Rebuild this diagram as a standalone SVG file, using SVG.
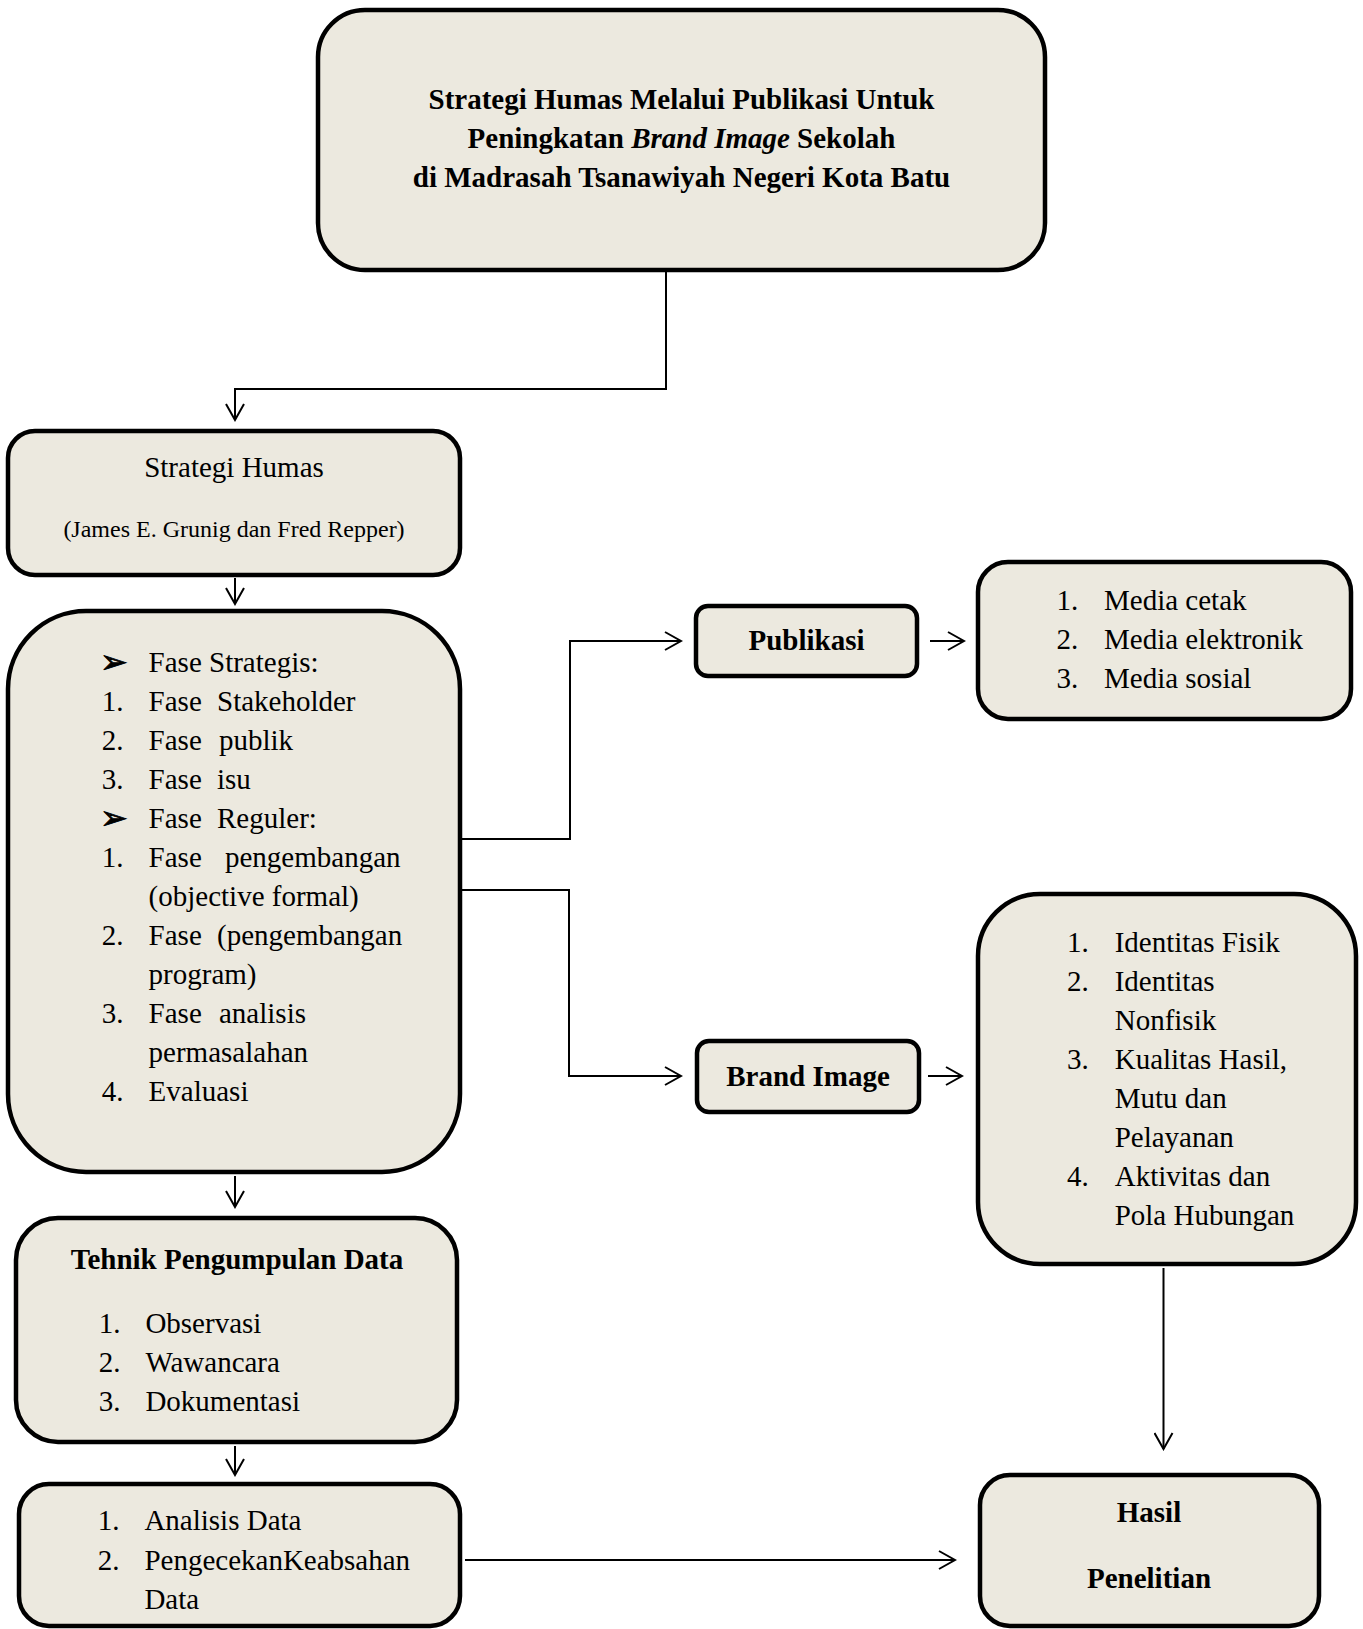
<svg xmlns="http://www.w3.org/2000/svg" width="1363" height="1629" viewBox="0 0 1363 1629">
<style>
.box{fill:#ECE9DF;stroke:#000;stroke-width:4.5}
.t{font-family:"Liberation Serif","Times New Roman",serif;font-size:29px;fill:#000}
.b{font-weight:bold}
.s{font-size:24px}
.c{text-anchor:middle}
.bul{font-family:"DejaVu Sans",sans-serif;font-size:33px;stroke:#000;stroke-width:0.8}
.ln{fill:none;stroke:#000;stroke-width:2}
</style>
<defs>
<marker id="ah" viewBox="0 0 20 20" refX="18" refY="10" markerWidth="20" markerHeight="20" markerUnits="userSpaceOnUse" orient="auto">
<path d="M2,1 L18,10 L2,19" fill="none" stroke="#000" stroke-width="2"/>
</marker>
</defs>
<g id="connectors">
<path class="ln" d="M666,270 V389 H235 V420" stroke-width="1.6" marker-end="url(#ah)"/>
<path class="ln" d="M235,578 V604" marker-end="url(#ah)"/>
<path class="ln" d="M460,839 H570 V641 H681" marker-end="url(#ah)"/>
<path class="ln" d="M460,890 H569 V1076 H681" marker-end="url(#ah)"/>
<path class="ln" d="M930,641 H964" marker-end="url(#ah)"/>
<path class="ln" d="M928,1076 H962" marker-end="url(#ah)"/>
<path class="ln" d="M235,1176 V1207" marker-end="url(#ah)"/>
<path class="ln" d="M235,1446 V1475" marker-end="url(#ah)"/>
<path class="ln" d="M1163.5,1268 V1449" marker-end="url(#ah)"/>
<path class="ln" d="M465,1560 H955" stroke-width="2.5" marker-end="url(#ah)"/>
</g>
<g id="title">
<rect class="box" x="318" y="10" width="727" height="260" rx="47"/>
<text class="t b c" x="681.5" y="109">Strategi Humas Melalui Publikasi Untuk</text>
<text class="t b c" x="681.5" y="147.5">Peningkatan <tspan font-style="italic">Brand Image</tspan> Sekolah</text>
<text class="t b c" x="681.5" y="187">di Madrasah Tsanawiyah Negeri Kota Batu</text>
</g>
<g id="strategi-humas">
<rect class="box" x="8" y="431" width="452" height="144" rx="27"/>
<text class="t c" x="234" y="477">Strategi Humas</text>
<text class="t s c" x="234" y="537">(James E. Grunig dan Fred Repper)</text>
</g>
<g id="fase">
<rect class="box" x="8" y="611" width="452" height="561" rx="78"/>
<text class="bul" x="100" y="673">➢</text><text class="t" x="148.6" y="672">Fase Strategis:</text>
<text class="t" x="101.8" y="711">1.</text><text class="t" x="148.6" y="711">Fase</text><text class="t" x="217" y="711">Stakeholder</text>
<text class="t" x="101.8" y="750">2.</text><text class="t" x="148.6" y="750">Fase</text><text class="t" x="219" y="750">publik</text>
<text class="t" x="101.8" y="789">3.</text><text class="t" x="148.6" y="789">Fase</text><text class="t" x="217" y="789">isu</text>
<text class="bul" x="100" y="829">➢</text><text class="t" x="148.6" y="828">Fase</text><text class="t" x="217" y="828">Reguler:</text>
<text class="t" x="101.8" y="867">1.</text><text class="t" x="148.6" y="867">Fase</text><text class="t" x="225" y="867">pengembangan</text>
<text class="t" x="148.6" y="906">(objective formal)</text>
<text class="t" x="101.8" y="945">2.</text><text class="t" x="148.6" y="945">Fase</text><text class="t" x="217" y="945">(pengembangan</text>
<text class="t" x="148.6" y="984">program)</text>
<text class="t" x="101.8" y="1023">3.</text><text class="t" x="148.6" y="1023">Fase</text><text class="t" x="219" y="1023">analisis</text>
<text class="t" x="148.6" y="1062">permasalahan</text>
<text class="t" x="101.8" y="1101">4.</text><text class="t" x="148.6" y="1101">Evaluasi</text>
</g>
<g id="publikasi">
<rect class="box" x="696" y="606" width="221" height="70" rx="12"/>
<text class="t b c" x="806.5" y="650">Publikasi</text>
</g>
<g id="media">
<rect class="box" x="978" y="562" width="373" height="157" rx="30"/>
<text class="t" x="1056.6" y="610">1.</text><text class="t" x="1104" y="610">Media cetak</text>
<text class="t" x="1056.6" y="649">2.</text><text class="t" x="1104" y="649">Media elektronik</text>
<text class="t" x="1056.6" y="688">3.</text><text class="t" x="1104" y="688">Media sosial</text>
</g>
<g id="brand-image">
<rect class="box" x="697" y="1041" width="222" height="71" rx="12"/>
<text class="t b c" x="808" y="1086">Brand Image</text>
</g>
<g id="brand-list">
<rect class="box" x="978" y="894" width="378" height="370" rx="62"/>
<text class="t" x="1067" y="952">1.</text><text class="t" x="1114.7" y="952">Identitas Fisik</text>
<text class="t" x="1067" y="991">2.</text><text class="t" x="1114.7" y="991">Identitas</text>
<text class="t" x="1114.7" y="1030">Nonfisik</text>
<text class="t" x="1067" y="1069">3.</text><text class="t" x="1114.7" y="1069">Kualitas Hasil,</text>
<text class="t" x="1114.7" y="1108">Mutu dan</text>
<text class="t" x="1114.7" y="1147">Pelayanan</text>
<text class="t" x="1067" y="1186">4.</text><text class="t" x="1114.7" y="1186">Aktivitas dan</text>
<text class="t" x="1114.7" y="1225">Pola Hubungan</text>
</g>
<g id="tehnik">
<rect class="box" x="16" y="1218" width="441" height="224" rx="42"/>
<text class="t b c" x="237" y="1268.5">Tehnik Pengumpulan Data</text>
<text class="t" x="98.7" y="1333">1.</text><text class="t" x="145.4" y="1333">Observasi</text>
<text class="t" x="98.7" y="1372">2.</text><text class="t" x="145.4" y="1372">Wawancara</text>
<text class="t" x="98.7" y="1411">3.</text><text class="t" x="145.4" y="1411">Dokumentasi</text>
</g>
<g id="analisis">
<rect class="box" x="19" y="1484" width="441" height="142" rx="30"/>
<text class="t" x="97.7" y="1530">1.</text><text class="t" x="144.4" y="1530">Analisis Data</text>
<text class="t" x="97.7" y="1570">2.</text><text class="t" x="144.4" y="1570">PengecekanKeabsahan</text>
<text class="t" x="144.4" y="1609">Data</text>
</g>
<g id="hasil">
<rect class="box" x="980" y="1475" width="339" height="151" rx="30"/>
<text class="t b c" x="1149" y="1522">Hasil</text>
<text class="t b c" x="1149" y="1587.5">Penelitian</text>
</g>
</svg>
